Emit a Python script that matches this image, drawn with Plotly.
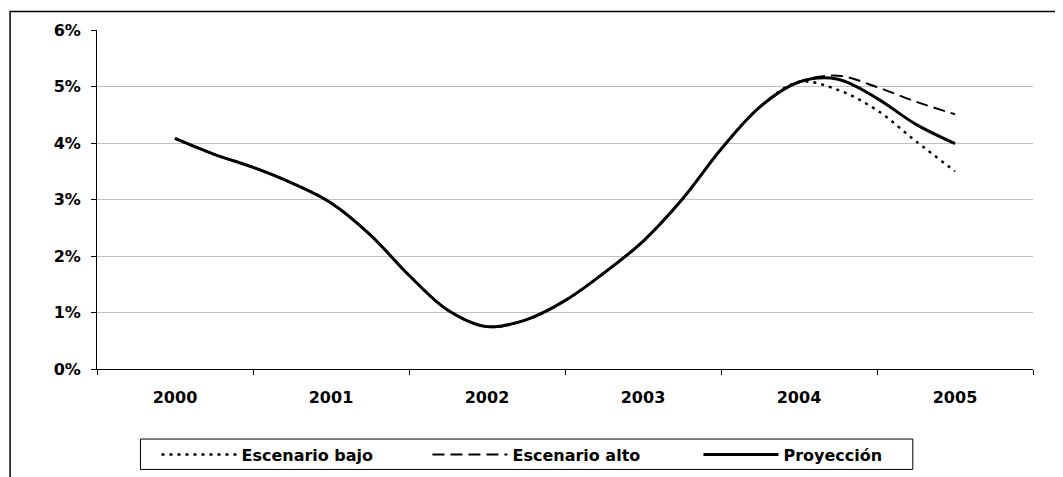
import plotly.graph_objects as go

periods = [2000.0, 2000.25, 2000.5, 2000.75, 2001.0, 2001.25, 2001.5, 2001.75,
           2002.0, 2002.25, 2002.5, 2002.75, 2003.0, 2003.25, 2003.5, 2003.75,
           2004.0, 2004.25, 2004.5, 2004.75, 2005.0]

proyeccion = [4.08, 3.80, 3.57, 3.29, 2.94, 2.38, 1.66, 1.04, 0.75, 0.87, 1.21,
              1.70, 2.26, 3.00, 3.89, 4.64, 5.08, 5.13, 4.79, 4.33, 3.99]
escenario_alto = [4.08, 3.80, 3.57, 3.29, 2.94, 2.38, 1.66, 1.04, 0.75, 0.87, 1.21,
                  1.70, 2.26, 3.00, 3.89, 4.64, 5.08, 5.19, 4.99, 4.73, 4.51]
escenario_bajo = [4.08, 3.80, 3.57, 3.29, 2.94, 2.38, 1.66, 1.04, 0.75, 0.87, 1.21,
                  1.70, 2.26, 3.00, 3.89, 4.64, 5.08, 4.94, 4.58, 4.03, 3.50]

year_labels = ["2000", "2001", "2002", "2003", "2004", "2005"]
year_vals = [2000, 2001, 2002, 2003, 2004, 2005]
year_bounds = [1999.5, 2000.5, 2001.5, 2002.5, 2003.5, 2004.5, 2005.5]
y_ticks = [0, 1, 2, 3, 4, 5, 6]
y_labels = ["0%", "1%", "2%", "3%", "4%", "5%", "6%"]

FONT = "DejaVu Sans"

fig = go.Figure()
fig.add_trace(go.Scatter(x=periods, y=escenario_bajo, name="Escenario bajo", mode="lines",
                         line=dict(color="black", width=2.4, dash="3px,5px", shape="spline")))
fig.add_trace(go.Scatter(x=periods, y=escenario_alto, name="Escenario alto", mode="lines",
                         line=dict(color="black", width=2, dash="12px,6px", shape="spline")))
fig.add_trace(go.Scatter(x=periods, y=proyeccion, name="Proyección", mode="lines",
                         line=dict(color="black", width=3, shape="spline")))

OFF = 8  # page body margin
W, H = 1063, 477
# target page coordinates of the plot area
PL, PR, PT, PB = 96.5, 1033.3, 29.5, 369.3
L = PL - OFF
T = PT - OFF
R = W - (PR - OFF)
B = H - (PB - OFF)
pw = W - L - R
ph = H - T - B

def px_x(p):
    return (p - OFF - L) / pw

def px_y(p):
    return (H - B - (p - OFF)) / ph

fig.update_layout(
    width=W, height=H,
    margin=dict(l=L, r=R, t=T, b=B, autoexpand=False),
    paper_bgcolor="white", plot_bgcolor="white",
    font=dict(family=FONT, size=16, color="black", weight="bold"),
    xaxis=dict(range=[1999.5, 2005.5], tickvals=year_vals, ticktext=year_labels,
               ticks="", showgrid=False, zeroline=False,
               showline=True, linecolor="black", linewidth=1,
               tickfont=dict(family=FONT, size=16, weight="bold"),
               ticklabelstandoff=14,
               minor=dict(tickvals=year_bounds, ticks="outside", ticklen=5,
                          tickcolor="black", tickwidth=1, showgrid=False)),
    yaxis=dict(range=[0, 6], tickvals=y_ticks, ticktext=y_labels,
               ticks="outside", ticklen=5, tickcolor="black",
               showgrid=True, gridcolor="#c0c0c0", gridwidth=1, zeroline=False,
               showline=True, linecolor="black", linewidth=1,
               ticklabelstandoff=7,
               tickfont=dict(family=FONT, size=16, weight="bold")),
    legend=dict(orientation="h", x=px_x(156), xanchor="left", y=px_y(438), yanchor="top",
                borderwidth=0, bgcolor="rgba(0,0,0,0)",
                font=dict(family=FONT, size=16, weight="bold"),
                itemwidth=75, entrywidth=181, traceorder="normal"),
    shapes=[
        dict(type="rect", xref="paper", yref="paper",
             x0=px_x(9.5), x1=px_x(1200), y0=px_y(11), y1=px_y(600),
             line=dict(color="black", width=1.5), layer="below"),
        dict(type="rect", xref="paper", yref="paper",
             x0=px_x(140), x1=px_x(913), y0=px_y(439.5), y1=px_y(470),
             line=dict(color="black", width=1), layer="below"),
    ],
)

fig.write_html("out.html")
